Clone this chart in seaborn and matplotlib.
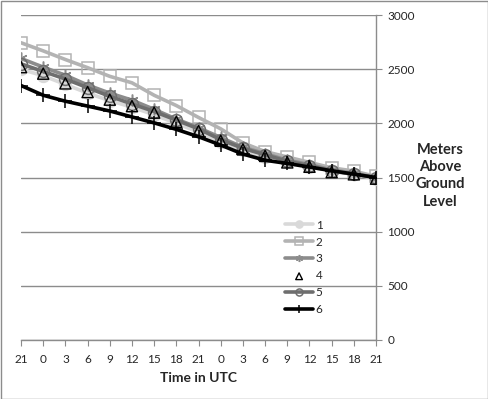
import matplotlib
matplotlib.use("Agg")
import matplotlib.pyplot as plt
import seaborn as sns
import pandas as pd
from matplotlib.patches import Rectangle

hours = ["21", "0", "3", "6", "9", "12", "15", "18", "21", "0", "3", "6", "9", "12", "15", "18", "21"]

s1 = [2500, 2440, 2360, 2280, 2210, 2150, 2080, 2000, 1920, 1830, 1750, 1690, 1640, 1600, 1560, 1530, 1490]
s2 = [2745, 2670, 2590, 2515, 2435, 2375, 2260, 2165, 2055, 1950, 1820, 1740, 1690, 1640, 1590, 1560, 1510]
s3 = [2600, 2520, 2445, 2355, 2280, 2215, 2130, 2040, 1960, 1870, 1780, 1720, 1660, 1620, 1570, 1540, 1500]
s4 = [2520, 2460, 2370, 2290, 2220, 2160, 2100, 2015, 1930, 1840, 1760, 1700, 1640, 1600, 1550, 1530, 1490]
s5 = [2550, 2480, 2410, 2330, 2250, 2180, 2110, 2030, 1950, 1850, 1770, 1710, 1650, 1610, 1560, 1530, 1500]
s6 = [2350, 2260, 2205, 2160, 2115, 2060, 2005, 1945, 1877, 1800, 1717, 1660, 1630, 1597, 1563, 1532, 1500]

sns.set_style("white")
plt.rcParams['font.family'] = ['Lato', 'DejaVu Sans']

fig = plt.figure(figsize=(4.89, 3.99), dpi=100)
ax = fig.add_axes([0.043, 0.148, 0.726, 0.814])

df = pd.DataFrame({"x": range(len(hours))})

# line series: (values, label, colour, marker, filled)
styles = [
    (s1, "1", "#d9d9d9", "o", True),
    (s2, "2", "#b3b3b3", "s", False),
    (s3, "3", "#8c8c8c", (6, 2, 0), False),
    (s4, "4", "black", "^", False),
    (s5, "5", "#6e6e6e", "o", False),
    (s6, "6", "black", "+", False),
]

for vals, lab, col, mk, filled in styles:
    df[lab] = vals
    if lab == "4":
        sns.scatterplot(data=df, x="x", y=lab, ax=ax, marker="^", s=65,
                        facecolor="none", edgecolor="black", linewidth=1.0,
                        label=lab, zorder=5)
        continue
    sns.lineplot(data=df, x="x", y=lab, ax=ax, color=col, lw=2.6,
                 marker=mk, markersize=8.5 if mk != "+" else 10,
                 markerfacecolor=col if filled else "none",
                 markeredgecolor=col, markeredgewidth=1.1,
                 label=lab, zorder=3 if lab != "6" else 4)

ax.set_xlim(0, len(hours) - 1)
ax.set_ylim(0, 3000)
ax.set_xticks(range(len(hours)))
ax.set_xticklabels(hours, fontsize=8.5)
ax.set_yticks(range(0, 3001, 500))
ax.set_yticklabels([str(v) for v in range(0, 3001, 500)], fontsize=8.5)
ax.yaxis.tick_right()
ax.yaxis.set_label_position("right")
ax.grid(axis="y", color="#8c8c8c", lw=1)
ax.tick_params(axis="x", direction="out", length=4, color="#8c8c8c", bottom=True, pad=6)
ax.tick_params(axis="y", direction="out", length=4, color="#8c8c8c", right=True, left=False, pad=4)

for side in ["top", "left"]:
    ax.spines[side].set_visible(False)
for side in ["bottom", "right"]:
    ax.spines[side].set_color("#8c8c8c")
    ax.spines[side].set_linewidth(1)

ax.set_xlabel("Time in UTC", fontsize=10, fontweight="bold", labelpad=5)
ax.set_ylabel("")
fig.text(0.9, 0.56, "Meters\nAbove\nGround\nLevel", ha="center", va="center",
         fontsize=10.5, fontweight="bold", linespacing=1.3)

leg = ax.legend(loc="upper left", bbox_to_anchor=(0.73, 0.385), frameon=False,
                fontsize=8.5, handlelength=2.4, handletextpad=0.2, labelspacing=0.5,
                borderaxespad=0, markerscale=0.6)

fig.patches.append(Rectangle((0.003, 0.0), 0.994, 0.998, transform=fig.transFigure,
                             fill=False, edgecolor="#8c8c8c", lw=1))

fig.savefig("out.png", dpi=100)
